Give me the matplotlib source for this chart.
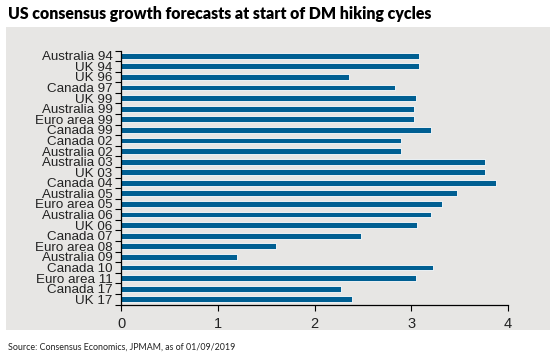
import numpy as np
import matplotlib.pyplot as plt

# data, top to bottom
labels = ['Australia 94', 'UK 94', 'UK 96', 'Canada 97', 'UK 99', 'Australia 99',
          'Euro area 99', 'Canada 99', 'Canada 02', 'Australia 02', 'Australia 03',
          'UK 03', 'Canada 04', 'Australia 05', 'Euro area 05', 'Australia 06',
          'UK 06', 'Canada 07', 'Euro area 08', 'Australia 09', 'Canada 10',
          'Euro area 11', 'Canada 17', 'UK 17']
values = [3.08, 3.08, 2.36, 2.83, 3.05, 3.03, 3.03, 3.20, 2.89, 2.89, 3.76,
          3.76, 3.88, 3.47, 3.32, 3.20, 3.06, 2.48, 1.60, 1.20, 3.22, 3.05,
          2.27, 2.39]
x_ticks = [0, 1, 2, 3, 4]

bar_color = '#005f92'
panel_color = '#e7e6e4'

fig = plt.figure(figsize=(5.5, 3.59), dpi=100)
fig.patch.set_facecolor('white')

# grey panel behind the chart
bg = fig.add_axes([6 / 550, 1 - 330 / 359, 544 / 550, 303 / 359])
bg.set_facecolor(panel_color)
bg.set_xticks([])
bg.set_yticks([])
for s in bg.spines.values():
    s.set_visible(False)
bg.set_zorder(0)

ax = fig.add_axes([121 / 550, 1 - 304.5 / 359, 387 / 550, 254 / 359])
ax.set_facecolor('none')
ax.set_zorder(1)

n = len(labels)
pos = np.arange(n)
ax.barh(pos, values, height=0.55, color=bar_color, edgecolor='white', linewidth=0.6)

ax.set_ylim(n - 0.5, -0.5)
ax.set_xlim(0, 4)
ax.set_yticks(pos)
ax.set_yticklabels(labels, fontsize=9.6, family='Liberation Sans', color='#222222')
ax.set_yticks(np.arange(n + 1) - 0.5, minor=True)
ax.tick_params(axis='y', which='major', length=0, pad=6)
ax.tick_params(axis='y', which='minor', length=4, width=0.8, direction='out')
ax.set_xticks(x_ticks)
ax.set_xticklabels([str(t) for t in x_ticks], fontsize=10.5, family='Liberation Sans',
                   color='#222222')
ax.tick_params(axis='x', length=4, width=0.8, direction='out', pad=5)

for s in ['top', 'right']:
    ax.spines[s].set_visible(False)
for s in ['left', 'bottom']:
    ax.spines[s].set_linewidth(0.9)

fig.text(8 / 550, 1 - 14 / 359, 'US consensus growth forecasts at start of DM hiking cycles',
         fontsize=11.4, fontweight='heavy', family='Lato', va='center', ha='left')
fig.text(8 / 550, 1 - 347 / 359, 'Source: Consensus Economics, JPMAM, as of 01/09/2019',
         fontsize=6.4, family='Lato', va='center', ha='left', color='#222222')

fig.savefig('out.png', dpi=100)
